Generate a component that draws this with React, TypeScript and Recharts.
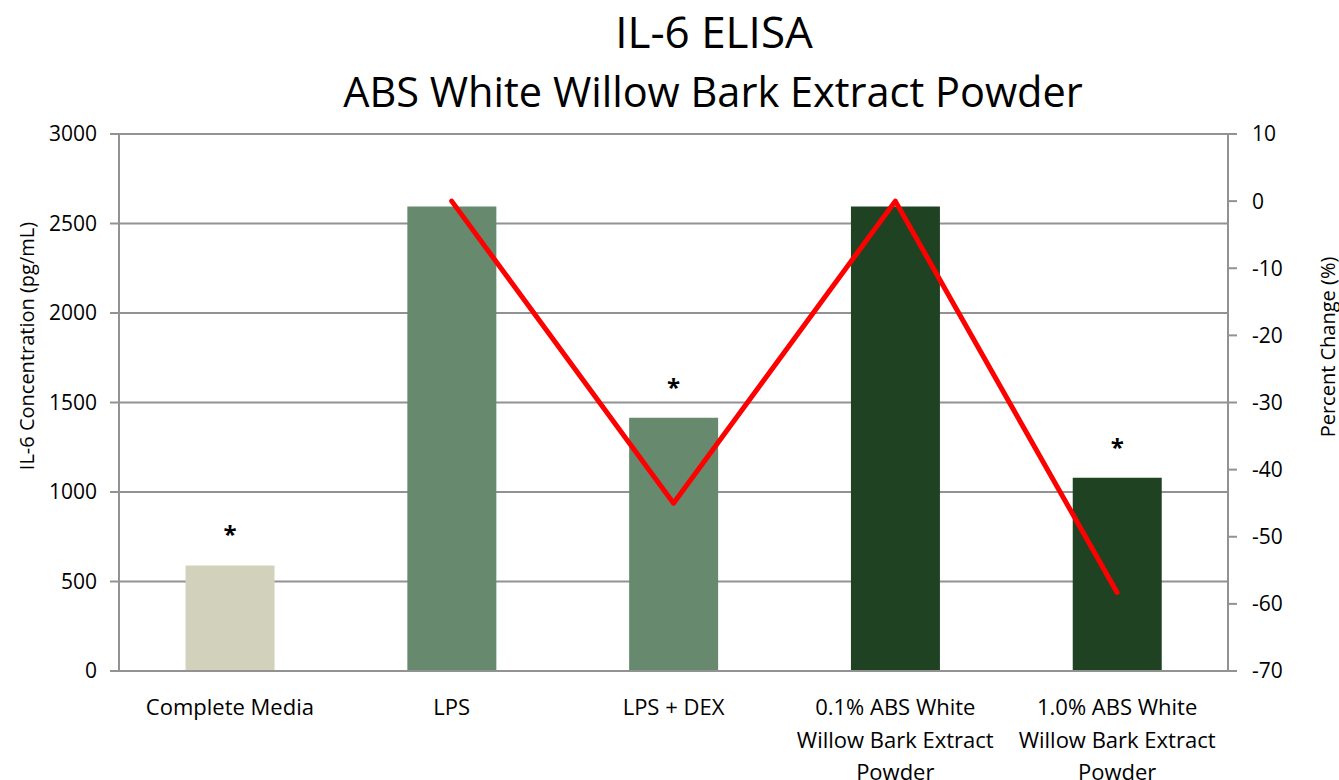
import React from 'react'
import { ComposedChart, Bar, Line, XAxis, YAxis, CartesianGrid, Cell, LabelList } from 'recharts'

const categories = [
  'Complete Media',
  'LPS',
  'LPS + DEX',
  '0.1% ABS White Willow Bark Extract Powder',
  '1.0% ABS White Willow Bark Extract Powder',
]
const concentration = [590, 2595, 1415, 2595, 1080]
const percentChange = [null, 0, -45, 0, -58.3]
const significance = ['*', '', '*', '', '*']
const leftTicks = [0, 500, 1000, 1500, 2000, 2500, 3000]
const rightTicks = [-70, -60, -50, -40, -30, -20, -10, 0, 10]

const data = categories.map((name, i) => ({
  name,
  conc: concentration[i],
  pct: percentChange[i],
  sig: significance[i],
}))

const barColors = ['#D1D1BC', '#678A6E', '#678A6E', '#1F4223', '#1F4223']
const font = '"Open Sans", sans-serif'
const grey = '#929292'

// greedy word wrap, Excel breaks these labels at about 19 characters
function wrap(text: string, max: number): string[] {
  const lines: string[] = []
  let cur = ''
  for (const w of text.split(' ')) {
    const next = cur ? cur + ' ' + w : w
    if (next.length > max && cur) {
      lines.push(cur)
      cur = w
    } else {
      cur = next
    }
  }
  if (cur) lines.push(cur)
  return lines
}

function CategoryTick(props: any) {
  const { x, y, payload } = props
  const lines = wrap(String(payload.value), 19)
  return (
    <text x={x} y={y} textAnchor='middle' fontSize={22} fill='#000' fontFamily={font}>
      {lines.map((l, i) => (
        <tspan key={i} x={x} dy={i === 0 ? 44 : 32.5}>
          {l}
        </tspan>
      ))}
    </text>
  )
}

export default function App(): JSX.Element {
  return (
    <div style={{ position: 'absolute', left: 0, top: 0, width: 1339, height: 780, background: '#fff' }}>
      <ComposedChart
        width={1339}
        height={780}
        data={data}
        margin={{ top: 134, right: 0, bottom: 0, left: 0 }}
        barCategoryGap='30%'
        style={{ fontFamily: font }}
      >
        <CartesianGrid yAxisId='left' vertical={false} stroke={grey} strokeWidth={2} strokeOpacity={1} />
        <XAxis
          dataKey='name'
          height={109}
          interval={0}
          tickSize={0}
          tickMargin={0}
          tickLine={false}
          axisLine={{ stroke: grey, strokeWidth: 2 }}
          tick={<CategoryTick />}
        />
        <YAxis
          yAxisId='left'
          width={119}
          domain={[0, 3000]}
          ticks={leftTicks}
          interval={0}
          tickSize={9}
          tickMargin={13}
          axisLine={{ stroke: grey, strokeWidth: 2 }}
          tickLine={{ stroke: grey, strokeWidth: 2 }}
          tick={{ fill: '#000', fontSize: 21, fontFamily: font }}
        />
        <YAxis
          yAxisId='right'
          orientation='right'
          width={111}
          domain={[-70, 10]}
          ticks={rightTicks}
          interval={0}
          tickSize={9}
          tickMargin={15}
          axisLine={{ stroke: grey, strokeWidth: 2 }}
          tickLine={{ stroke: grey, strokeWidth: 2 }}
          tick={{ fill: '#000', fontSize: 21, fontFamily: font }}
        />
        <Bar yAxisId='left' dataKey='conc' isAnimationActive={false}>
          {data.map((d, i) => (
            <Cell key={d.name} fill={barColors[i]} />
          ))}
          <LabelList
            dataKey='sig'
            position='top'
            offset={22}
            fill='#000'
            fontSize={24}
            fontWeight='bold'
            fontFamily={font}
          />
        </Bar>
        <Line
          yAxisId='right'
          type='linear'
          dataKey='pct'
          stroke='#FF0000'
          strokeWidth={5}
          strokeLinecap='round'
          strokeLinejoin='round'
          dot={false}
          activeDot={false}
          isAnimationActive={false}
        />
      </ComposedChart>
      <svg
        width={1339}
        height={780}
        style={{ position: 'absolute', left: 0, top: 0, pointerEvents: 'none' }}
        fontFamily={font}
      >
        <text x={714} y={48} textAnchor='middle' fontSize={44} fill='#000'>
          IL-6 ELISA
        </text>
        <text x={713} y={107} textAnchor='middle' fontSize={41.5} fill='#000'>
          ABS White Willow Bark Extract Powder
        </text>
        <text
          x={26}
          y={346}
          transform='rotate(-90 26 346)'
          textAnchor='middle'
          dominantBaseline='central'
          fontSize={20}
          fill='#000'
        >
          IL-6 Concentration (pg/mL)
        </text>
        <text
          x={1327}
          y={347}
          transform='rotate(-90 1327 347)'
          textAnchor='middle'
          dominantBaseline='central'
          fontSize={20}
          fill='#000'
        >
          Percent Change (%)
        </text>
      </svg>
    </div>
  )
}
